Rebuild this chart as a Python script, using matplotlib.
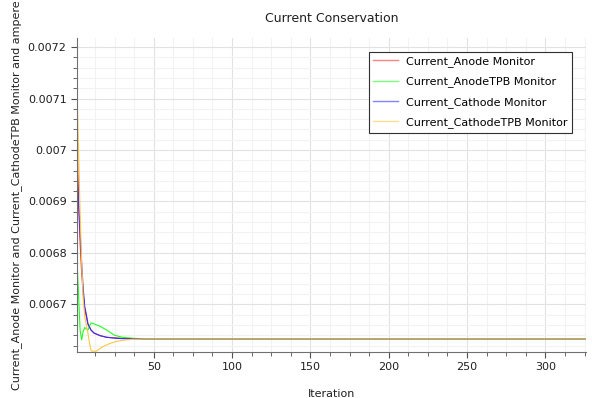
import matplotlib
matplotlib.use("Agg")
import matplotlib.pyplot as plt
from matplotlib.ticker import MultipleLocator, AutoMinorLocator, FuncFormatter

plt.rcParams['font.family'] = 'DejaVu Sans'
plt.rcParams['font.size'] = 8

# values
it_anode = [1, 2, 3, 4, 5, 6, 8, 10, 12, 16, 20, 30, 40, 326]
anode = [0.00705, 0.00690, 0.00682, 0.00676, 0.00672, 0.00669, 0.006662,
         0.00665, 0.006644, 0.006639, 0.006636, 0.006634, 0.006633, 0.006633]

it_anode_tpb = [1, 2, 3, 4, 5, 6, 7, 8, 9, 10, 12, 16, 20, 25, 30, 37, 45, 326]
anode_tpb = [0.00679, 0.00672, 0.00665, 0.006631, 0.006648, 0.006655, 0.006652,
             0.00665, 0.006658, 0.006664, 0.006662, 0.006657, 0.00665, 0.00664,
             0.006636, 0.006634, 0.006633, 0.006633]

it_cathode = [1, 2, 3, 4, 5, 6, 7, 8, 10, 12, 16, 20, 26, 33, 326]
cathode = [0.00698, 0.00690, 0.00684, 0.00678, 0.00673, 0.006695, 0.00668,
           0.006662, 0.00665, 0.006644, 0.006639, 0.006636, 0.006634, 0.006633,
           0.006633]

it_cathode_tpb = [1, 2, 3, 4, 5, 6, 7, 8, 9, 10, 11, 13, 14, 16, 19, 22, 26,
                  30, 36, 45, 326]
cathode_tpb = [0.00712, 0.00700, 0.00688, 0.00678, 0.00671, 0.006675, 0.00666,
               0.006644, 0.006625, 0.00661, 0.006609, 0.006609, 0.00661,
               0.006615, 0.00662, 0.006624, 0.006628, 0.00663, 0.006632,
               0.006633, 0.006633]

fig = plt.figure(figsize=(5.92, 3.98), dpi=100)
ax = fig.add_axes([0.130, 0.1163, 0.860, 0.7875])

ax.plot(it_anode, anode, color='#ff3030', lw=0.8, label='Current_Anode Monitor')
ax.plot(it_anode_tpb, anode_tpb, color='#20ff20', lw=0.8, label='Current_AnodeTPB Monitor')
ax.plot(it_cathode, cathode, color='#3030ff', lw=0.8, label='Current_Cathode Monitor')
ax.plot(it_cathode_tpb, cathode_tpb, color='#ffc840', lw=0.8, label='Current_CathodeTPB Monitor')

ax.set_xlim(1, 326)
ax.set_ylim(0.006608, 0.007217)

ax.xaxis.set_major_locator(MultipleLocator(50))
ax.xaxis.set_minor_locator(AutoMinorLocator(4))
ax.yaxis.set_major_locator(MultipleLocator(0.0001))
ax.yaxis.set_minor_locator(AutoMinorLocator(5))
ax.yaxis.set_major_formatter(FuncFormatter(lambda v, p: '%g' % round(v, 6)))

ax.grid(which='major', color='#e2e2e2', lw=0.8)
ax.grid(which='minor', color='#f2f2f2', lw=0.8)
ax.set_axisbelow(True)

for s in ['top', 'right']:
    ax.spines[s].set_visible(False)
for s in ['left', 'bottom']:
    ax.spines[s].set_color('#707070')
ax.tick_params(which='both', direction='out', color='#505050', labelcolor='#202020')
ax.tick_params(which='major', length=4)
ax.tick_params(which='minor', length=3)

ax.set_title('Current Conservation', fontsize=9, pad=12, color='#202020')
ax.set_xlabel('Iteration', labelpad=12, color='#202020')
ax.set_ylabel('Current_Anode Monitor and Current_CathodeTPB Monitor and ampere',
              color='#202020', labelpad=4)

leg = ax.legend(loc='upper right', bbox_to_anchor=(0.973, 0.957), borderaxespad=0,
                fancybox=False, framealpha=1, edgecolor='#303030', fontsize=8,
                handlelength=2.2, labelspacing=0.85)
leg.get_frame().set_linewidth(0.8)
for h in leg.get_lines():
    h.set_linewidth(1.0)
    h.set_alpha(0.6)

fig.savefig('out.png', dpi=100)
